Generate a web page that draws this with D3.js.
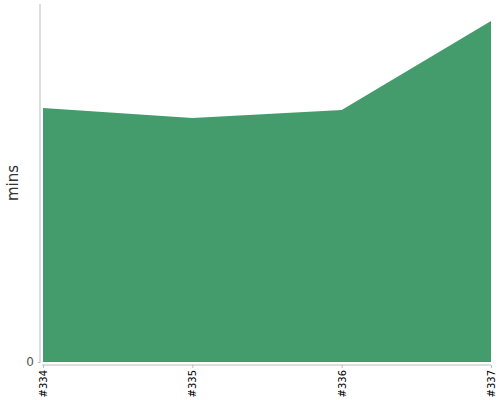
<!DOCTYPE html>
<html><head>
<meta charset="utf-8">
<script src="https://d3js.org/d3.v7.min.js"></script>
<style>
  body { margin: 0; background: #fff; }
  svg text { font-family: "DejaVu Sans", sans-serif; }
</style>
</head>
<body>
<div id="chart"></div>
<script>
// build numbers and their durations (minutes)
const builds = ["#334", "#335", "#336", "#337"];
const durations = [25.4, 24.4, 25.2, 34.1];
const yTicks = [0];

const width = 500, height = 400;
const margin = { top: 4, right: 9, bottom: 38, left: 43 };

const svg = d3.select("#chart").append("svg")
  .attr("width", width).attr("height", height);

const xScale = d3.scalePoint().domain(builds).range([margin.left, width - margin.right]);
const yScale = d3.scaleLinear()
  .domain([0, d3.max(durations) * 1.05])
  .range([height - margin.bottom, margin.top]);

const data = builds.map((b, i) => ({ b: b, v: durations[i] }));

// the area
const area = d3.area()
  .x(d => xScale(d.b))
  .y0(yScale(0))
  .y1(d => yScale(d.v));
svg.append("path").datum(data)
  .attr("d", area)
  .attr("fill", "#449c6c");

// y axis
const yAxis = svg.append("g").attr("transform", "translate(" + (margin.left - 3) + ",0)")
  .call(d3.axisLeft(yScale).tickValues(yTicks).tickSize(2).tickSizeOuter(0));
yAxis.attr("font-family", null);
yAxis.select(".domain").attr("stroke", "#bbb")
  .attr("d", "M0," + margin.top + "V" + (height - margin.bottom + 1));
yAxis.selectAll(".tick line").attr("stroke", "#bbb");
yAxis.selectAll(".tick text").attr("font-size", 12).attr("fill", "#555").attr("x", -6);

// x axis
const xAxis = svg.append("g").attr("transform", "translate(0," + (height - margin.bottom + 3) + ")")
  .call(d3.axisBottom(xScale).tickSize(3).tickSizeOuter(0));
xAxis.attr("font-family", null);
xAxis.select(".domain").attr("stroke", "#bbb")
  .attr("d", "M" + (margin.left - 1) + ",0H" + (width - margin.right));
xAxis.selectAll(".tick line").attr("stroke", "#bbb");
xAxis.selectAll(".tick text")
  .attr("font-size", 10).attr("fill", "#000")
  .attr("transform", "rotate(-90)")
  .attr("text-anchor", "end")
  .attr("x", -5).attr("y", 0).attr("dy", "0.35em");

// y label
svg.append("text")
  .attr("transform", "translate(18," + ((margin.top + height - margin.bottom) / 2) + ") rotate(-90)")
  .attr("text-anchor", "middle")
  .attr("font-size", 15)
  .attr("fill", "#333")
  .text("mins");
</script>
</body>
</html>
